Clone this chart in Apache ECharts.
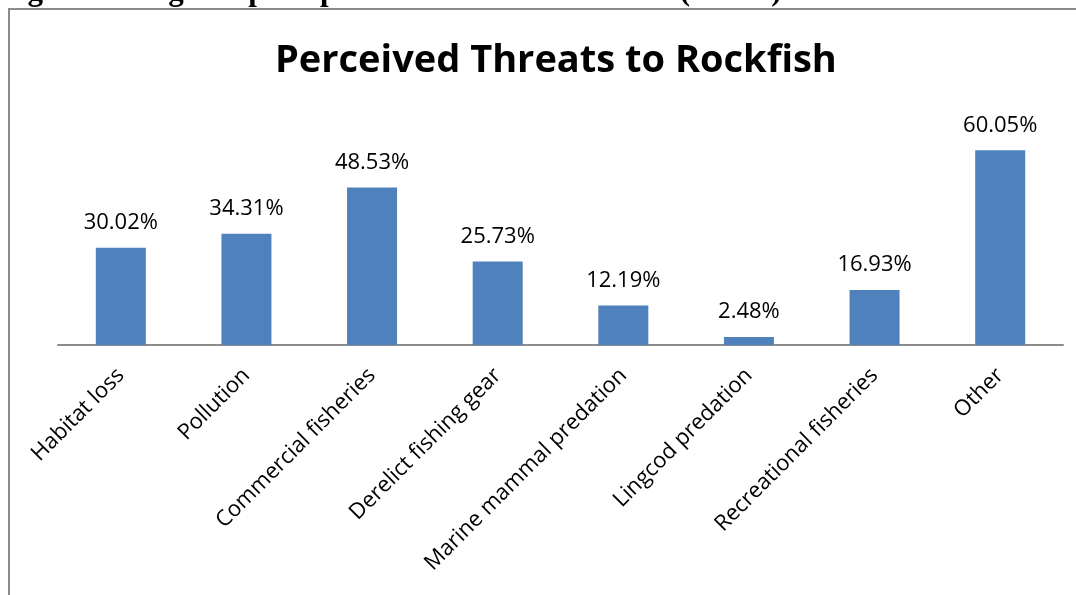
<!DOCTYPE html>
<html>
<head>
<meta charset="utf-8">
<script src="https://cdn.jsdelivr.net/npm/echarts@6/dist/echarts.min.js"></script>
<style>
html,body{margin:0;padding:0;background:#fff;}
#c{width:1076px;height:595px;}
</style>
</head>
<body>
<div id="c"></div>
<script>
const categories = ["Habitat loss","Pollution","Commercial fisheries","Derelict fishing gear","Marine mammal predation","Lingcod predation","Recreational fisheries","Other"];
const values = [30.02,34.31,48.53,25.73,12.19,2.48,16.93,60.05];
const chartTitle = "Perceived Threats to Rockfish";
const figureCaption = "Figure 8: Anglers' perception of threats to rockfish (n=443)";

const chart = echarts.init(document.getElementById('c'));
chart.setOption({
  animation:false,
  backgroundColor:'#fff',
  title:{text:chartTitle,left:270,top:37,
    textStyle:{fontFamily:'Open Sans',fontWeight:'bold',fontSize:38,color:'#000'}},
  graphic:[
    {type:'text',left:0,top:-24,style:{text:figureCaption,font:'bold 31px "Liberation Serif"',fill:'#000'}},
    {type:'rect',shape:{x:9,y:9,width:1200,height:700},style:{fill:null,stroke:'#8c8c8c',lineWidth:2},silent:true}
  ],
  grid:{left:58,right:13,top:118,bottom:250},
  xAxis:{type:'category',data:categories,
    axisLine:{lineStyle:{color:'#8c8c8c',width:2}},
    axisTick:{show:false},
    axisLabel:{rotate:45,interval:0,fontFamily:'Open Sans',fontSize:22,color:'#000',margin:27}},
  yAxis:{type:'value',min:0,max:70,show:false,splitLine:{show:false}},
  series:[{type:'bar',data:values,barWidth:50,
    itemStyle:{color:'#4f81bd'},
    label:{show:true,position:'top',distance:14,formatter:p=>p.value.toFixed(2)+'%',
      fontFamily:'Open Sans',fontSize:22,color:'#000'}}]
});
</script>
</body>
</html>
